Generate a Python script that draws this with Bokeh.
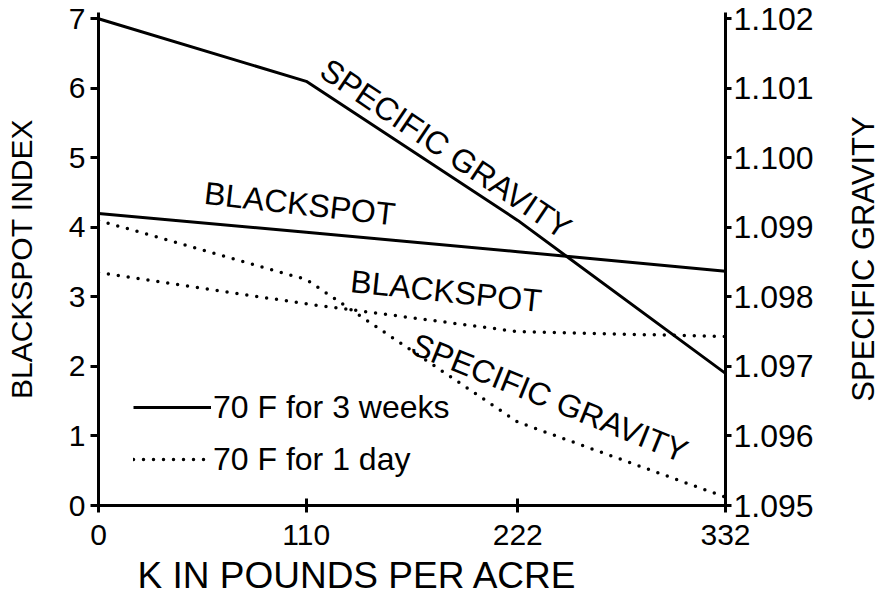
from bokeh.plotting import figure
from bokeh.layouts import row
from bokeh.models import (Range1d, LinearAxis, FixedTicker, Label, Legend,
                          LegendItem, PrintfTickFormatter)
from bokeh.embed import file_html
from bokeh.resources import INLINE

# ---- data ----
k_rates = [0, 110, 222, 332]                     # K in pounds per acre
bs_3weeks = [4.2, 3.93, 3.65, 3.37]              # blackspot index, 70 F for 3 weeks
bs_1day = [3.35, 2.9, 2.5, 2.43]                 # blackspot index, 70 F for 1 day
sg_3weeks = [1.1020, 1.1011, 1.0991, 1.0969]     # specific gravity, 70 F for 3 weeks
sg_1day = [1.0991, 1.09825, 1.0962, 1.09512]     # specific gravity, 70 F for 1 day
x_ticks = [0, 110, 222, 332]
left_ticks = [0, 1, 2, 3, 4, 5, 6, 7]
right_ticks = [1.095, 1.096, 1.097, 1.098, 1.099, 1.100, 1.101, 1.102]

FONT = "Liberation Sans"

p = figure(width=844, height=600, output_backend="svg", toolbar_location=None,
           x_range=Range1d(0, 332), y_range=Range1d(0, 7.09),
           min_border_left=98, min_border_right=119, min_border_top=12,
           min_border_bottom=95,
           title="K IN POUNDS PER ACRE", title_location="below")
p.extra_y_ranges = {"sg": Range1d(1.095, 1.10209)}
p.outline_line_color = None
p.xgrid.visible = False
p.ygrid.visible = False
p.background_fill_color = "white"
p.border_fill_color = "white"

p.title.align = "left"
p.title.offset = 39
p.title.text_font = FONT
p.title.text_font_size = "37px"
p.title.text_font_style = "normal"
p.title.text_color = "black"
p.title.standoff = 10

# ---- lines ----
solid = dict(line_width=3, line_color="black")
dotted = dict(line_width=3.5, line_color="black", line_dash="0 10", line_cap="round")
r_bs3 = p.line(k_rates, bs_3weeks, **solid)
r_bs1 = p.line(k_rates, bs_1day, **dotted)
p.line(k_rates, sg_3weeks, y_range_name="sg", **solid)
p.line(k_rates, sg_1day, y_range_name="sg", **dotted)

# ---- axes ----
xa = p.xaxis[0]
xa.ticker = FixedTicker(ticks=x_ticks)
ya = p.yaxis[0]
ya.ticker = FixedTicker(ticks=left_ticks)
ya.axis_label = "BLACKSPOT INDEX"

ra = LinearAxis(y_range_name="sg", ticker=FixedTicker(ticks=right_ticks),
                formatter=PrintfTickFormatter(format="%.3f"))
p.add_layout(ra, "right")

for ax in (xa, ya, ra):
    ax.axis_line_width = 3
    ax.axis_line_color = "black"
    ax.major_tick_line_width = 3
    ax.major_tick_line_color = "black"
    ax.minor_tick_line_color = None
    ax.major_label_text_font = FONT
    ax.major_label_text_font_size = "30px"
    ax.major_label_text_color = "black"
    ax.axis_label_text_font = FONT
    ax.axis_label_text_font_size = "30px"
    ax.axis_label_text_font_style = "normal"
    ax.axis_label_text_color = "black"

ra.major_label_text_font_size = "32px"
xa.major_tick_in = 7
xa.major_tick_out = 7
xa.major_label_standoff = 12
ya.major_tick_in = 0
ya.major_tick_out = 8
ya.major_label_standoff = 5
ya.axis_label_standoff = 28
ra.major_tick_in = 0
ra.major_tick_out = 6
ra.major_label_standoff = 2

# ---- in-chart labels ----
lab = dict(text_font=FONT, text_font_size="32px", text_color="black",
           text_baseline="bottom", angle_units="deg")
p.add_layout(Label(x=114, y=6.1, text="SPECIFIC GRAVITY", angle=-34, **lab))
p.add_layout(Label(x=163, y=2.1, text="SPECIFIC GRAVITY", angle=-22, **lab))
p.add_layout(Label(x=55, y=4.24, text="BLACKSPOT", angle=-6.5, **lab))
p.add_layout(Label(x=132.5, y=2.97, text="BLACKSPOT", angle=-6, **lab))

# ---- legend ----
leg = Legend(items=[LegendItem(label="70 F for 3 weeks", renderers=[r_bs3]),
                    LegendItem(label="70 F for 1 day", renderers=[r_bs1])],
             location=(35, 26), glyph_width=78, glyph_height=40,
             label_height=40, label_standoff=2, spacing=12, padding=0,
             margin=0, border_line_color=None, background_fill_alpha=0,
             label_text_font=FONT, label_text_font_size="32px",
             label_text_color="black")
p.add_layout(leg)

# ---- right-hand axis title, reading bottom-to-top like the reference ----
p2 = figure(width=36, height=600, output_backend="svg", toolbar_location=None,
            x_axis_location=None, y_axis_location=None,
            min_border_left=34, min_border_right=0, min_border_top=12,
            min_border_bottom=95,
            title="SPECIFIC GRAVITY", title_location="left")
p2.outline_line_color = None
p2.xgrid.visible = False
p2.ygrid.visible = False
p2.border_fill_color = "white"
p2.background_fill_color = "white"
p2.title.align = "center"
p2.title.offset = 9
p2.title.text_font = FONT
p2.title.text_font_size = "31px"
p2.title.text_font_style = "normal"
p2.title.text_color = "black"
p2.title.standoff = 0

layout = row(p, p2)
open("out.html", "w").write(file_html(layout, INLINE))
